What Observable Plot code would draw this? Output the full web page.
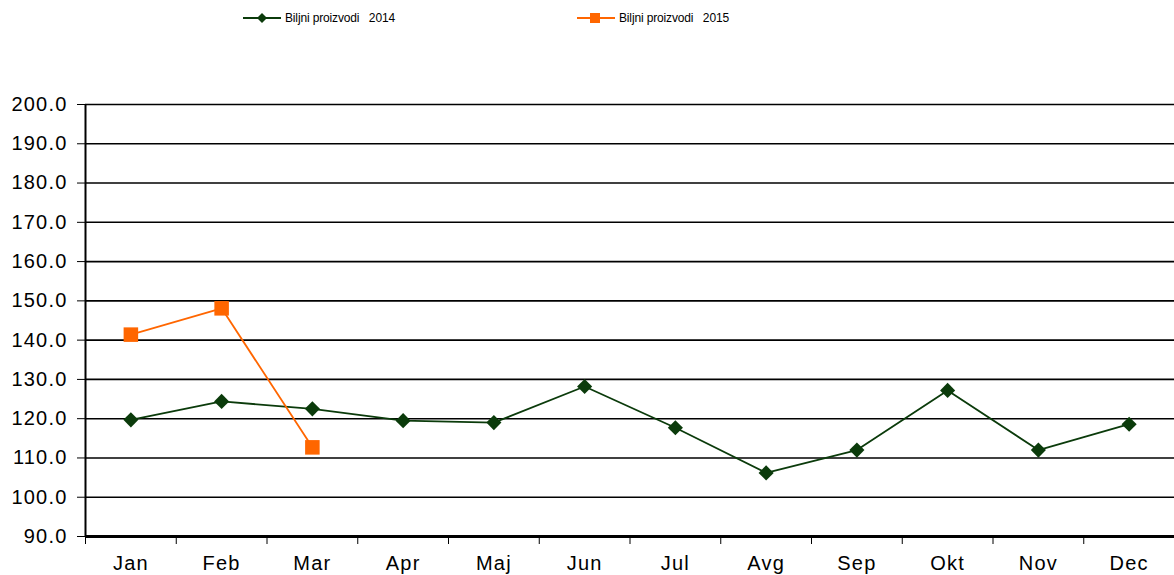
<!DOCTYPE html>
<html>
<head>
<meta charset="utf-8">
<script src="https://cdn.jsdelivr.net/npm/d3@7"></script>
<script src="https://cdn.jsdelivr.net/npm/@observablehq/plot@0.6"></script>
<style>
  html, body { margin: 0; padding: 0; background: #fff; }
  #legend { position: relative; height: 60px; width: 1174px; font-family: "Liberation Sans", Arial, sans-serif; font-size: 12px; color: #000; }
  .item { position: absolute; top: 11px; display: flex; align-items: center; white-space: pre; letter-spacing: -0.15px; }
  .item svg { margin-right: 4px; }
  #chart svg g[aria-label="y-axis tick label"] text, #chart svg g[aria-label="x-axis tick label"] text { letter-spacing: 1.2px; }
</style>
</head>
<body>
<div id="legend"></div>
<div id="chart"></div>
<script>
const months = ["Jan", "Feb", "Mar", "Apr", "Maj", "Jun", "Jul", "Avg", "Sep", "Okt", "Nov", "Dec"];
const values2014 = [119.7, 124.4, 122.5, 119.5, 119.0, 128.2, 117.7, 106.2, 112.0, 127.2, 112.0, 118.6];
const values2015 = [141.4, 148.1, 112.7];
const seriesNames = ["Biljni proizvodi   2014", "Biljni proizvodi   2015"];
const yTicks = [90, 100, 110, 120, 130, 140, 150, 160, 170, 180, 190, 200];

const green = "#0b3b0b";
const orange = "#ff6600";

const d2014 = values2014.map((v, i) => ({x: i + 0.5, y: v}));
const d2015 = values2015.map((v, i) => ({x: i + 0.5, y: v}));

// Legend
const legend = document.getElementById("legend");
const items = [
  {name: seriesNames[0], color: green, left: 243, marker: '<path d="M19,2 L24,7 L19,12 L14,7 Z" fill="' + green + '"/>'},
  {name: seriesNames[1], color: orange, left: 577, marker: '<rect x="13" y="2" width="10" height="10" fill="' + orange + '"/>'}
];
for (const it of items) {
  const div = document.createElement("div");
  div.className = "item";
  div.style.left = it.left + "px";
  div.innerHTML = '<svg width="38" height="14"><line x1="0" y1="7" x2="38" y2="7" stroke="' + it.color + '" stroke-width="2"/>' + it.marker + '</svg><span>' + it.name + '</span>';
  legend.appendChild(div);
}

const chart = Plot.plot({
  width: 1174,
  height: 515,
  marginTop: 44,
  marginBottom: 39,
  marginLeft: 85,
  marginRight: 0,
  x: {domain: [0, 12]},
  y: {domain: [90, 200]},
  style: {fontFamily: "'Liberation Sans', Arial, sans-serif", fontSize: "20px", color: "#000", background: "#fff", overflow: "visible"},
  marks: [
    Plot.gridY(yTicks, {stroke: "#000", strokeOpacity: 1, strokeWidth: 1.6}),
    Plot.axisY(yTicks, {tickFormat: d => d.toFixed(1), tickSize: 8, tickPadding: 10, label: null, fontSize: 20}),
    Plot.axisX(d3.range(13), {tickFormat: () => "", tickSize: 8, label: null}),
    Plot.axisX(months.map((m, i) => i + 0.5), {tickFormat: d => months[Math.floor(d)], tickSize: 0, tickPadding: 19, label: null, fontSize: 20}),
    Plot.ruleX([0], {stroke: "#000", strokeWidth: 2}),
    Plot.ruleY([90], {stroke: "#000", strokeWidth: 3}),
    Plot.line(d2014, {x: "x", y: "y", stroke: green, strokeWidth: 1.8}),
    Plot.dot(d2014, {x: "x", y: "y", symbol: "diamond2", r: 6.8, fill: green, stroke: "none"}),
    Plot.line(d2015, {x: "x", y: "y", stroke: orange, strokeWidth: 1.8}),
    Plot.dot(d2015, {x: "x", y: "y", symbol: "square", r: 8.2, fill: orange, stroke: "none"})
  ]
});
document.getElementById("chart").appendChild(chart);
</script>
</body>
</html>
